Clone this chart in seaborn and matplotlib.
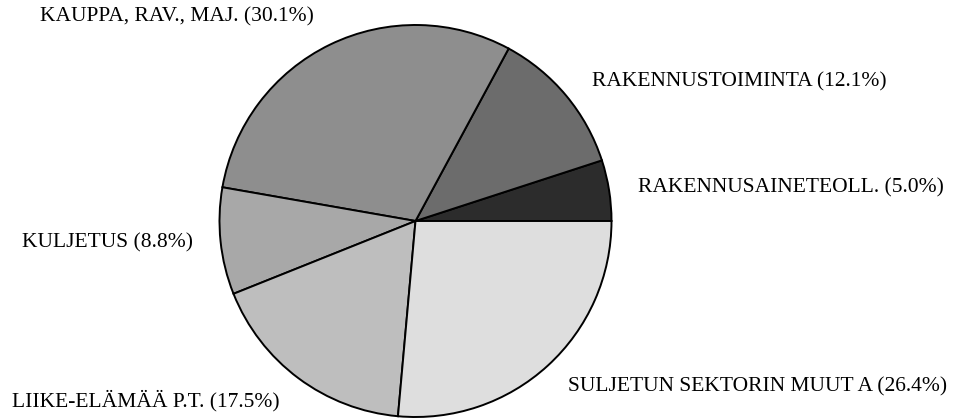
import matplotlib
matplotlib.use("Agg")
import matplotlib.pyplot as plt
import seaborn as sns

# slice data, counter-clockwise from 3 o'clock
sectors = ['RAKENNUSAINETEOLL.', 'RAKENNUSTOIMINTA', 'KAUPPA, RAV., MAJ.',
           'KULJETUS', 'LIIKE-ELÄMÄÄ P.T.', 'SULJETUN SEKTORIN MUUT A']
shares = [5.0, 12.1, 30.1, 8.8, 17.5, 26.4]
greys = ['#2c2c2c', '#6c6c6c', '#8e8e8e', '#a8a8a8', '#bebebe', '#dedede']

sns.set_style('white')
plt.rcParams['font.family'] = ['Liberation Serif', 'DejaVu Serif']

W, H = 957, 418
fig = plt.figure(figsize=(W / 100, H / 100), dpi=100)
ax = fig.add_axes([0, 0, 1, 1])

# pie sits in a pixel-sized data space so labels can use pixel positions
wedges, _ = ax.pie(shares, colors=greys, startangle=0, counterclock=True,
                   center=(415.5, 197), radius=196, frame=True,
                   wedgeprops={'edgecolor': 'black', 'linewidth': 1.4})
ax.set_xlim(0, W)
ax.set_ylim(0, H)
ax.set_aspect('equal')
ax.axis('off')

# label anchors (x left edge, y from top in pixels)
label_pos = [(638, 188), (592, 82), (40, 17),
             (22, 243), (12, 401), (568, 387)]
for name, val, (x, y) in zip(sectors, shares, label_pos):
    ax.text(x, H - y, f'{name} ({val:.1f}%)', ha='left', va='center',
            fontsize=15.5, color='black')

plt.savefig('out.png', dpi=100)
